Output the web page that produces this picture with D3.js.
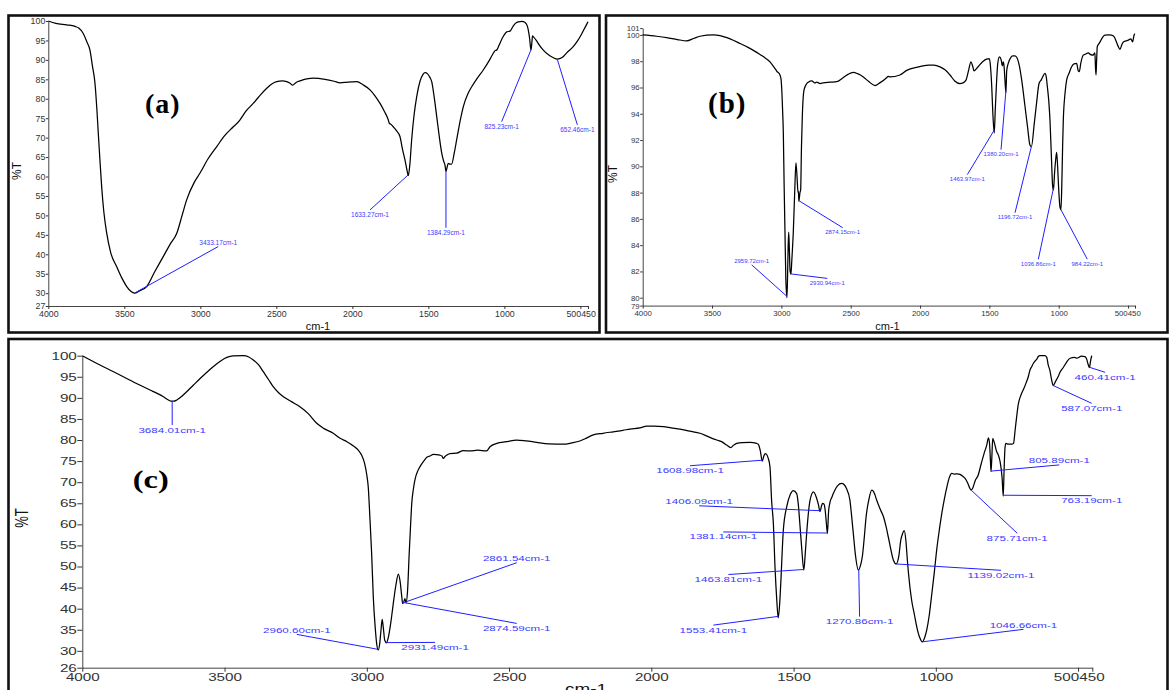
<!DOCTYPE html>
<html><head><meta charset="utf-8">
<script src="https://cdn.jsdelivr.net/npm/d3@7"></script>
<style>body{margin:0;background:#fff}svg{display:block}</style>
</head><body>
<svg id="chart" width="1169" height="690"></svg>
<script>
// ---------------- DATA ----------------
const xTickValues = [4000,3500,3000,2500,2000,1500,1000,500,450];
const yTicksA = [30,35,40,45,50,55,60,65,70,75,80,85,90,95,100];
const yTicksB = [80,82,84,86,88,90,92,94,96,98,100];
const yTicksC = [30,35,40,45,50,55,60,65,70,75,80,85,90,95,100];
const yDomainA = [26.7,100];
const yDomainB = [79.4,100.52];
const yDomainC = [26,100];

// [wavenumber cm-1, %T]
const spectrumA = [[4000,100],[3950,99.4],[3879,99.0],[3824,98.6],[3800,98.2],[3770,96.8],[3745,94.5],[3726,92.5],[3710,88.5],[3693,84],[3680,77],[3671,71],[3660,64],[3649,57.4],[3635,51],[3616,45.5],[3590,40.5],[3550,36.8],[3515,33.8],[3484,31.7],[3455,30.4],[3433,30.0],[3400,30.6],[3353,31.7],[3300,35.5],[3244,39.4],[3200,42.5],[3155,45.4],[3120,50],[3090,54],[3040,58.5],[3002,60.9],[2950,64.5],[2892,67.7],[2840,70.5],[2783,72.8],[2740,74.5],[2728,75.2],[2700,76.8],[2652,78.8],[2600,81.2],[2563,82.7],[2530,83.8],[2498,84.4],[2460,84.6],[2432,84.4],[2410,84.0],[2393,83.5],[2370,84.2],[2344,84.6],[2300,85.1],[2257,85.3],[2180,85.0],[2120,84.5],[2081,84.1],[2030,84.3],[1971,84.4],[1930,83.6],[1884,82.3],[1850,80.7],[1818,78.8],[1790,76.8],[1764,74.6],[1757,73.7],[1745,73.4],[1731,72.8],[1710,71.8],[1687,70.3],[1670,67],[1654,64.3],[1640,61.5],[1632,60.2],[1622,63],[1610,69.4],[1595,75.5],[1577,80.5],[1555,84.5],[1535,86.3],[1522,86.7],[1505,86.4],[1490,85.5],[1478,84.4],[1462,80.5],[1445,75.4],[1428,70.2],[1412,66],[1400,64],[1391,63],[1384,61.3],[1375,62.7],[1369,63.4],[1358,63.2],[1347,63.2],[1330,66],[1314,69.4],[1290,74.5],[1270,78],[1240,81.3],[1215,83.1],[1180,85.2],[1139,87.4],[1100,89.8],[1073,91.7],[1060,92.4],[1051,92.5],[1040,93.3],[1029,94.3],[1005,96.2],[985,97.2],[963,97.4],[940,98.8],[920,99.6],[908,99.8],[885,99.9],[864,99.6],[850,98.8],[843,97.7],[834,95.5],[825,92.5],[819,94.5],[815,96.2],[810,96],[790,95],[770,93.8],[744,92.5],[710,91.3],[680,90.6],[652,90.2],[620,90.6],[590,91.8],[547,93.4],[520,94.8],[490,96.8],[470,98.3],[450,99.8]];

const spectrumB = [[4000,100],[3900,99.9],[3827,99.8],[3750,99.65],[3683,99.55],[3630,99.75],[3587,99.9],[3491,100],[3443,99.95],[3370,99.7],[3298,99.35],[3240,99.05],[3178,98.67],[3130,98.35],[3082,97.95],[3050,97.5],[3034,97.25],[3010,96.95],[3002,96.6],[2998,96.0],[2992,94.5],[2986,92.55],[2980,88.5],[2974,85],[2968,81.5],[2960,80.0],[2955,81.8],[2951,84],[2947,85.0],[2942,83.5],[2937,82.0],[2931,81.8],[2925,82.8],[2914,85],[2904,88],[2895,90.26],[2887,89.2],[2880,88],[2877,88.1],[2874,87.35],[2866,88.0],[2861,88.2],[2855,91.5],[2849,93.8],[2843,95.2],[2837,95.8],[2820,96.25],[2806,96.4],[2780,96.5],[2760,96.35],[2745,96.4],[2720,96.3],[2698,96.36],[2650,96.4],[2601,96.44],[2560,96.7],[2520,97.0],[2481,97.15],[2450,97.05],[2409,96.8],[2370,96.45],[2325,96.15],[2290,96.35],[2241,96.74],[2230,96.85],[2217,96.8],[2145,96.95],[2096,97.3],[2020,97.55],[1940,97.7],[1900,97.7],[1856,97.57],[1820,97.35],[1784,96.95],[1750,96.5],[1712,96.3],[1690,96.35],[1669,96.56],[1650,97.3],[1633,97.95],[1620,97.6],[1611,97.27],[1580,97.6],[1545,98.0],[1520,98.16],[1501,98.2],[1492,97.6],[1483,96.06],[1475,94.0],[1465,92.53],[1458,94.2],[1450,96.06],[1440,97.8],[1428,98.33],[1415,98.1],[1407,97.65],[1400,97.95],[1394,97.6],[1388,96.6],[1381,95.6],[1375,97.3],[1364,97.83],[1345,98.3],[1332,98.4],[1316,98.4],[1303,98.3],[1285,97.7],[1267,96.56],[1243,94.55],[1225,93.0],[1207,91.6],[1197,91.5],[1176,93.3],[1160,94.8],[1142,96.3],[1125,96.6],[1116,96.8],[1099,97.08],[1090,96.8],[1082,96.06],[1072,95.0],[1063,93.5],[1052,90.5],[1044,88.5],[1038,88.2],[1030,89.5],[1022,90.5],[1015,91.06],[1008,90.0],[1000,88.2],[991,86.9],[984,86.7],[978,88.5],[972,91.5],[967,93.5],[955,95.5],[943,96.56],[925,97.1],[907,97.58],[890,97.8],[871,97.83],[860,97.3],[852,97.2],[840,97.9],[823,98.46],[805,98.55],[787,98.64],[770,98.5],[751,98.46],[744,98.6],[739,98.64],[735,97.5],[731,96.95],[727,98.0],[722,99.1],[712,99.3],[702,99.47],[685,99.8],[667,99.98],[640,100],[618,99.98],[600,99.85],[585,99.5],[570,99.1],[558,98.9],[547,99.2],[534,99.47],[515,99.55],[498,99.6],[481,99.7],[474,99.6],[467,99.47],[462,99.7],[457,99.98],[450,100.1]];

const spectrumC = [[4000,100],[3938,97.8],[3890,96.2],[3844,94.6],[3800,93.1],[3762,91.86],[3735,91.0],[3715,90.27],[3700,89.6],[3689,89.25],[3678,89.2],[3668,89.5],[3650,90.4],[3633,91.46],[3610,93.0],[3586,94.6],[3563,96.0],[3540,97.4],[3515,98.7],[3492,99.6],[3470,99.95],[3434,100],[3415,99.7],[3399,98.98],[3380,97.8],[3364,96.2],[3345,94.3],[3329,92.64],[3310,91.2],[3293,90.27],[3265,89.1],[3235,87.9],[3205,86.2],[3176,83.96],[3150,82.7],[3118,81.6],[3094,80.4],[3070,79.6],[3047,78.6],[3030,77.6],[3018,76.4],[3008,74.5],[3000,71.7],[2995,68.9],[2989,61.4],[2983,53.1],[2977,42.5],[2971,36.0],[2965,31.5],[2960,30.2],[2955,31.5],[2950,35],[2946,37.45],[2942,35.5],[2937,32.5],[2931,31.9],[2925,33.0],[2915,37.0],[2907,41.2],[2898,45.5],[2889,48.2],[2883,46.5],[2877,42.8],[2874,41.2],[2870,41.6],[2866,42.4],[2862,41.4],[2857,44],[2851,53.1],[2846,60],[2842,65],[2836,68.5],[2831,70.5],[2820,72.8],[2813,73.7],[2800,75.0],[2789,75.9],[2778,76.2],[2766,76.6],[2743,76.4],[2736,76.2],[2731,75.65],[2725,76.1],[2719,76.4],[2708,76.8],[2684,76.9],[2661,77.5],[2637,77.4],[2610,77.6],[2579,77.4],[2567,78.4],[2543,79.2],[2510,79.6],[2473,80.0],[2440,79.8],[2403,79.45],[2360,79.1],[2309,79.0],[2280,79.3],[2251,79.76],[2230,80.4],[2204,81.2],[2170,81.6],[2134,81.96],[2100,82.3],[2075,82.6],[2040,82.9],[2016,83.3],[1990,83.3],[1958,83.2],[1930,82.9],[1899,82.6],[1865,82.1],[1829,81.6],[1800,80.8],[1770,80.0],[1750,79.5],[1735,78.8],[1721,78.2],[1710,78.8],[1700,79.2],[1680,79.4],[1653,79.45],[1630,79.2],[1624,79.0],[1617,77.5],[1610,75.0],[1604,76.3],[1599,76.8],[1594,76.5],[1589,75.65],[1583,73.7],[1577,65.4],[1571,60.2],[1565,49.5],[1559,42],[1554,37.8],[1549,41],[1545,46],[1536,58.6],[1524,64.2],[1512,67.0],[1501,68.0],[1489,67.3],[1483,64.5],[1478,60.2],[1471,54],[1464,49.15],[1459,53],[1454,57.85],[1442,65.76],[1430,67.7],[1419,66.2],[1413,64.8],[1407,63],[1402,64.3],[1398,65],[1393,64.8],[1389,63.4],[1385,60.5],[1381,57.85],[1377,63],[1372,65.2],[1365,66.5],[1360,67.35],[1345,69.2],[1331,69.7],[1322,69.4],[1314,68.5],[1302,65.76],[1296,62],[1290,57.85],[1283,53],[1272,49.15],[1265,50.2],[1258,52.5],[1252,56.5],[1245,61.8],[1235,66],[1225,68.1],[1215,67.2],[1208,65.76],[1195,63.5],[1184,61.8],[1175,59.5],[1167,57],[1158,54],[1149,51.5],[1139,50.6],[1130,52.5],[1123,56.3],[1117,57.8],[1111,58.5],[1105,56],[1100,51.5],[1096,48.35],[1085,42],[1075,38.5],[1067,35.7],[1057,33.2],[1047,32.1],[1040,33.0],[1032,34.9],[1023,38.5],[1014,43.6],[1005,48.8],[997,53.9],[988,58.5],[979,62.6],[970,66.0],[961,68.9],[952,71.2],[944,72.1],[935,71.9],[925,72.0],[915,71.85],[905,71.4],[897,70.9],[888,69.8],[880,68.5],[876,68.1],[870,68.6],[862,70.3],[851,71.7],[840,74.5],[830,76.9],[821,78.8],[815,80.5],[811,79],[808,75],[806,72.5],[803,76],[800,80.4],[795,79.5],[786,77.2],[780,76.4],[774,74.85],[767,71],[763,66.7],[760,73],[757,78.0],[754,79.2],[745,79.0],[733,79.0],[727,79.2],[721,82.5],[715,86],[710,88.5],[700,90.8],[692,92.0],[683,93.5],[675,95.0],[669,96.6],[663,97.4],[657,98.2],[650,98.8],[645,99.2],[640,99.8],[634,100],[617,100],[610,99.6],[605,97.8],[599,96.5],[594,94.6],[590,93.4],[587,92.9],[580,93.8],[569,95.2],[564,96.0],[552,97.2],[540,98.5],[528,99.4],[512,99.6],[505,99.4],[488,99.9],[476,99.76],[470,99.2],[464,97.8],[460,97.2],[456,98.8],[452,100]];

// peak annotations: peak wavenumber, leader end (wavenumber, %T), label, label side
const peaksA = [
  {wn:3433.17, ew:2882, et:42.0, label:"3433.17cm-1", side:"above"},
  {wn:1633.27, ew:1884, et:51.4, label:"1633.27cm-1", side:"below"},
  {wn:1384.29, ew:1384.29, et:46.8, label:"1384.29cm-1", side:"below"},
  {wn:825.23, ew:1018, et:74.1, label:"825.23cm-1", side:"below"},
  {wn:652.46, ew:520, et:73.3, label:"652.46cm-1", side:"below"}
];
const peaksB = [
  {wn:2959.72, ew:3214, et:82.5, label:"2959.72cm-1", side:"above"},
  {wn:2930.94, ew:2669, et:81.47, label:"2930.94cm-1", side:"below"},
  {wn:2874.15, ew:2558, et:85.33, label:"2874.15cm-1", side:"below"},
  {wn:1463.97, ew:1659, et:89.37, label:"1463.97cm-1", side:"below"},
  {wn:1380.20, ew:1416, et:91.27, label:"1380.20cm-1", side:"below"},
  {wn:1196.72, ew:1315, et:86.47, label:"1196.72cm-1", side:"below"},
  {wn:1036.86, ew:1147, et:82.93, label:"1036.86cm-1", side:"below"},
  {wn:984.22, ew:794, et:82.93, label:"984.22cm-1", side:"below"}
];
const peaksC = [
  {wn:3684.01, ew:3684.01, et:83.56, label:"3684.01cm-1", side:"below"},
  {wn:2960.60, ew:3246, et:33.9, label:"2960.60cm-1", side:"above"},
  {wn:2931.49, ew:2760, et:32.0, label:"2931.49cm-1", side:"below"},
  {wn:2861.54, ew:2473, et:50.9, label:"2861.54cm-1", side:"above"},
  {wn:2874.59, ew:2473, et:36.5, label:"2874.59cm-1", side:"below"},
  {wn:1608.98, ew:1864, et:73.9, label:"1608.98cm-1", side:"below"},
  {wn:1406.09, ew:1832, et:64.4, label:"1406.09cm-1", side:"above"},
  {wn:1381.14, ew:1747, et:58.2, label:"1381.14cm-1", side:"below"},
  {wn:1463.81, ew:1729, et:48.1, label:"1463.81cm-1", side:"below"},
  {wn:1553.41, ew:1782, et:36.1, label:"1553.41cm-1", side:"below"},
  {wn:1270.86, ew:1268, et:38.1, label:"1270.86cm-1", side:"below"},
  {wn:1139.02, ew:771, et:49.1, label:"1139.02cm-1", side:"below"},
  {wn:1046.66, ew:692, et:35.1, label:"1046.66cm-1", side:"above"},
  {wn:875.71, ew:714, et:57.9, label:"875.71cm-1", side:"below"},
  {wn:805.89, ew:566, et:74.1, label:"805.89cm-1", side:"above"},
  {wn:763.19, ew:452, et:66.8, label:"763.19cm-1", side:"below"},
  {wn:587.07, ew:452, et:88.7, label:"587.07cm-1", side:"below"},
  {wn:460.41, ew:405, et:96.06, label:"460.41cm-1", side:"below"}
];
const panelLabels = ["(a)","(b)","(c)"];
const xTitle = "cm-1", yTitle = "%T";

// ---------------- LAYOUT ----------------
const FONT = "Liberation Sans, Arial, sans-serif";
const SERIF = "Liberation Serif, 'Times New Roman', serif";
const panels = [
  {spec:spectrumA, peaks:peaksA, yTicks:yTicksA, yDomain:yDomainA, name:panelLabels[0],
   frame:[8.5,15.5,591,317], xRange:[48.3,588], yRange:[306,21], sx:1,
   tickY:2.5, padY:0.5, tickX:3, padX:2, fs:8.8, shift450:0,
   annFs:6.5, below:7.5, above:-1.5,
   title:{x:145,y:113,fs:28}, xt:{x:318,y:330,fs:11}, yt:{x:16.7,y:171,fs:12}},
  {spec:spectrumB, peaks:peaksB, yTicks:yTicksB, yDomain:yDomainB, name:panelLabels[1],
   frame:[606,15.5,561.5,317], xRange:[642.7,1135], yRange:[305.6,28.1], sx:1,
   tickY:2.5, padY:0.5, tickX:3, padX:2, fs:7.8, shift450:-1.3,
   annFs:6, below:6.5, above:-2,
   title:{x:708,y:113,fs:29}, xt:{x:887.5,y:330,fs:11}, yt:{x:613,y:174,fs:12}},
  {spec:spectrumC, peaks:peaksC, yTicks:yTicksC, yDomain:yDomainC, name:panelLabels[2],
   frame:[8.5,339,1159,360], xRange:[82.3,1092.3], yRange:[667.7,355.7], sx:1.45,
   tickY:5, padY:0.5, tickX:4, padX:2, fs:10.5, shift450:-0.9,
   annFs:8, below:7.5, above:-1.5,
   title:{x:132.7,y:488,fs:25, sx:1.3}, xt:{x:586,y:694,fs:14, sx:1.35}, yt:{x:21.7,y:518,fs:13, sx:1.4}}
];

const svg = d3.select("#chart");

function interpT(spec, wn){
  for (let i=0;i<spec.length-1;i++){
    const a=spec[i], b=spec[i+1];
    if (wn<=a[0] && wn>=b[0]){ const f=(a[0]-wn)/(a[0]-b[0]); return a[1]+f*(b[1]-a[1]); }
  }
  return spec[spec.length-1][1];
}

function drawPanel(P){
  const x = d3.scaleLinear().domain([4000,450]).range(P.xRange);
  const y = d3.scaleLinear().domain(P.yDomain).range(P.yRange);
  const g = svg.append("g");

  g.append("rect").attr("x",P.frame[0]).attr("y",P.frame[1]).attr("width",P.frame[2]).attr("height",P.frame[3])
    .attr("fill","none").attr("stroke","#111").attr("stroke-width",2.6);

  // Y axis
  const yVals = Array.from(new Set([P.yDomain[0], ...P.yTicks, P.yDomain[1]]));
  const gy = g.append("g").attr("transform",`translate(${P.xRange[0]},0)`)
    .call(d3.axisLeft(y).tickValues(yVals).tickSize(P.tickY).tickSizeOuter(0).tickPadding(P.padY).tickFormat(d3.format(".0f")));
  gy.attr("font-size",P.fs).attr("font-family",FONT).attr("color","#333");
  gy.select(".domain").attr("stroke","#444");
  gy.selectAll(".tick text").attr("x", -(P.tickY+P.padY)/P.sx).attr("transform",`scale(${P.sx},1)`);

  // X axis
  const gx = g.append("g").attr("transform",`translate(0,${P.yRange[0]})`)
    .call(d3.axisBottom(x).tickValues(xTickValues).tickSize(P.tickX).tickSizeOuter(0).tickPadding(P.padX).tickFormat(d3.format("d")));
  gx.attr("font-size",P.fs).attr("font-family",FONT).attr("color","#333");
  gx.select(".domain").attr("stroke","#444");
  gx.selectAll(".tick text").attr("transform",`scale(${P.sx},1)`);
  const t450 = gx.selectAll(".tick").filter(d=>d===450).select("text");
  t450.attr("x", P.shift450/P.sx);
  const w450 = t450.node().getComputedTextLength()*P.sx;
  const left450 = x(450)+P.shift450 - w450/2;
  gx.selectAll(".tick").filter(d=>d===500).select("text")
    .attr("text-anchor","end").attr("x",(left450 - x(500))/P.sx);

  // spectrum
  const line = d3.line().x(d=>x(d[0])).y(d=>y(d[1])).curve(d3.curveMonotoneX);
  g.append("path").datum(P.spec).attr("d",line).attr("fill","none").attr("stroke","#000").attr("stroke-width",1.25).attr("stroke-linejoin","round");

  // annotations
  const ann = g.append("g");
  P.peaks.forEach(p=>{
    const px = x(p.wn), py = y(interpT(P.spec,p.wn));
    const ex = x(p.ew), ey = y(p.et);
    ann.append("line").attr("x1",px).attr("y1",py).attr("x2",ex).attr("y2",ey)
      .attr("stroke","#1f1fff").attr("stroke-width",1);
    const ty = ey + (p.side==="above" ? P.above : P.below);
    ann.append("text").attr("transform",`translate(${ex},${ty}) scale(${P.sx},1)`)
      .attr("text-anchor","middle").attr("font-family",FONT).attr("font-size",P.annFs)
      .attr("fill","#3b3bff").text(p.label);
  });

  // titles
  g.append("text").attr("transform",`translate(${P.title.x},${P.title.y}) scale(${P.title.sx||1},1)`)
    .attr("font-family",SERIF).attr("font-weight","bold").attr("font-size",P.title.fs)
    .attr("letter-spacing", P.title.sx?0:1).attr("fill","#000").text(P.name);
  g.append("text").attr("transform",`translate(${P.xt.x},${P.xt.y}) scale(${P.xt.sx||1},1)`)
    .attr("text-anchor","middle").attr("font-family",FONT).attr("font-size",P.xt.fs).attr("fill","#111").text(xTitle);
  g.append("text").attr("transform",`translate(${P.yt.x},${P.yt.y}) scale(${P.yt.sx||1},1) rotate(-90)`)
    .attr("text-anchor","middle").attr("dominant-baseline","central").attr("font-family",FONT).attr("font-size",P.yt.fs).attr("fill","#111").text(yTitle);
}

panels.forEach(drawPanel);
</script>
</body></html>
